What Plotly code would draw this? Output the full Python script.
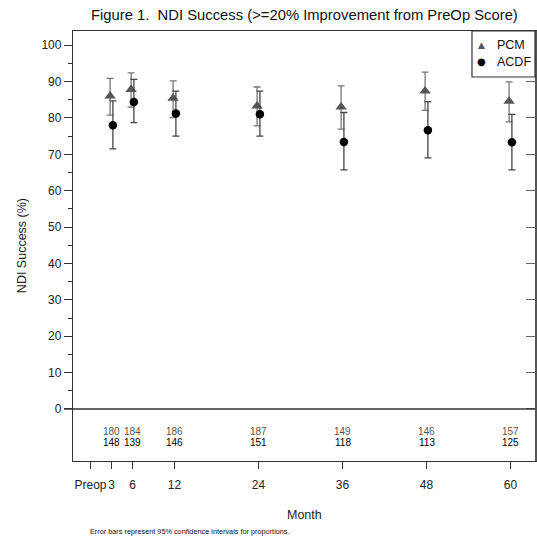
import plotly.graph_objects as go

# ---- data ----
months = [3, 6, 12, 24, 36, 48, 60]
pcm_pct = [86.0, 87.8, 85.4, 83.3, 83.0, 87.4, 84.6]
pcm_hi = [90.9, 92.4, 90.2, 88.5, 88.8, 92.6, 89.9]
pcm_lo = [80.8, 83.0, 80.1, 77.8, 76.9, 82.1, 78.9]
acdf_pct = [78.0, 84.4, 81.2, 81.0, 73.4, 76.6, 73.3]
acdf_hi = [84.7, 90.6, 87.4, 87.4, 81.5, 84.5, 81.0]
acdf_lo = [71.5, 78.7, 75.0, 75.0, 65.7, 69.0, 65.7]
pcm_n = [180, 184, 186, 187, 149, 146, 157]
acdf_n = [148, 139, 146, 151, 118, 113, 125]
x_tickvals = [0, 3, 6, 12, 24, 36, 48, 60]
x_ticktext = ["Preop", "3", "6", "12", "24", "36", "48", "60"]
y_tickvals = list(range(0, 101, 10))
y_minor = list(range(5, 100, 10))

FONT = "Liberation Sans, Arial, sans-serif"
off = 0.2

pcm_x = [m - off for m in months]
acdf_x = [m + off for m in months]

fig = go.Figure()
fig.add_trace(go.Scatter(
    x=pcm_x, y=pcm_pct, mode="markers", name="PCM",
    marker=dict(symbol="triangle-up", size=10, color="#555555"),
    error_y=dict(type="data", symmetric=False,
                 array=[h - p for h, p in zip(pcm_hi, pcm_pct)],
                 arrayminus=[p - l for p, l in zip(pcm_pct, pcm_lo)],
                 color="#777777", thickness=1.3, width=3.5),
    showlegend=False))
fig.add_trace(go.Scatter(
    x=acdf_x, y=acdf_pct, mode="markers", name="ACDF",
    marker=dict(symbol="circle", size=8.5, color="#000000"),
    error_y=dict(type="data", symmetric=False,
                 array=[h - p for h, p in zip(acdf_hi, acdf_pct)],
                 arrayminus=[p - l for p, l in zip(acdf_pct, acdf_lo)],
                 color="#444444", thickness=1.3, width=3.5),
    showlegend=False))
# dummy trace for right axis
fig.add_trace(go.Scatter(x=[None], y=[None], yaxis="y2", showlegend=False,
                         hoverinfo="skip"))


def ann(x, y, text, size, color="#111111", family=FONT, xref="paper", yref="paper",
        xanchor="center", **kw):
    return dict(x=x, y=y, xref=xref, yref=yref, text=text, showarrow=False,
                xanchor=xanchor, yanchor="middle",
                font=dict(family=family, size=size, color=color), **kw)


annotations = []
for m, a, b in zip(months, pcm_n, acdf_n):
    annotations.append(ann(m, -6.1, str(a), 10, "#555555", xref="x", yref="y"))
    annotations.append(ann(m, -9.1, str(b), 10, "#000000", xref="x", yref="y"))

annotations += [
    ann(0.502, 1.037, "Figure 1.  NDI Success (>=20% Improvement from PreOp Score)", 14.8),
    ann(-0.1104, 0.502, "NDI Success (%)", 12.5, "#222222", textangle=-90),
    ann(0.5015, -0.1256, "Month", 12.5, "#222222"),
    ann(0.0325, -0.163, "Error bars represent 95% confidence intervals for proportions.",
        7.3, family="Liberation Sans Narrow, " + FONT, xanchor="left"),
    # legend
    ann(0.885, 0.967, "▲", 9, "#555555", family="DejaVu Sans"),
    ann(0.913, 0.967, "PCM", 12.5, xanchor="left"),
    ann(0.885, 0.929, "●", 10, "#000000", family="DejaVu Sans"),
    ann(0.913, 0.929, "ACDF", 12.5, xanchor="left"),
]

shapes = [
    dict(type="line", xref="paper", yref="y", x0=-0.0195, x1=1, y0=0, y1=0,
         line=dict(color="#333333", width=1.3)),
    dict(type="rect", xref="paper", yref="paper", x0=0.8636, x1=1.0, y0=0.893, y1=1.0,
         line=dict(color="#333333", width=1.2), fillcolor="white", layer="above"),
]

fig.update_layout(
    width=537, height=536,
    margin=dict(l=73, r=2, t=31, b=75),
    paper_bgcolor="white", plot_bgcolor="white",
    font=dict(family=FONT, size=12, color="#222222"),
    annotations=annotations, shapes=shapes,
    xaxis=dict(range=[-2.5, 63.5], tickvals=x_tickvals, ticktext=x_ticktext,
               tickangle=0,
               ticks="outside", ticklen=7, tickcolor="#333333", tickwidth=1.2,
               showline=True, linecolor="#333333", linewidth=1.3, mirror=True,
               showgrid=False, zeroline=False, ticklabelstandoff=5,
               tickfont=dict(family=FONT, size=12, color="#222222")),
    yaxis=dict(range=[-14.3, 103.9], tickvals=y_tickvals,
               ticks="outside", ticklen=8, tickcolor="#333333", tickwidth=1.2,
               minor=dict(tickvals=y_minor, ticks="outside", ticklen=4, tickcolor="#333333"),
               showline=True, linecolor="#333333", linewidth=1.3,
               showgrid=False, zeroline=False,
               tickfont=dict(family=FONT, size=12, color="#222222")),
    yaxis2=dict(range=[-14.3, 103.9], overlaying="y", side="right",
                tickvals=y_tickvals, ticks="inside", ticklen=9, tickcolor="#666666",
                showticklabels=False, showline=True, linecolor="#555555", linewidth=1.5,
                showgrid=False, zeroline=False),
)

fig.write_html("out.html")
